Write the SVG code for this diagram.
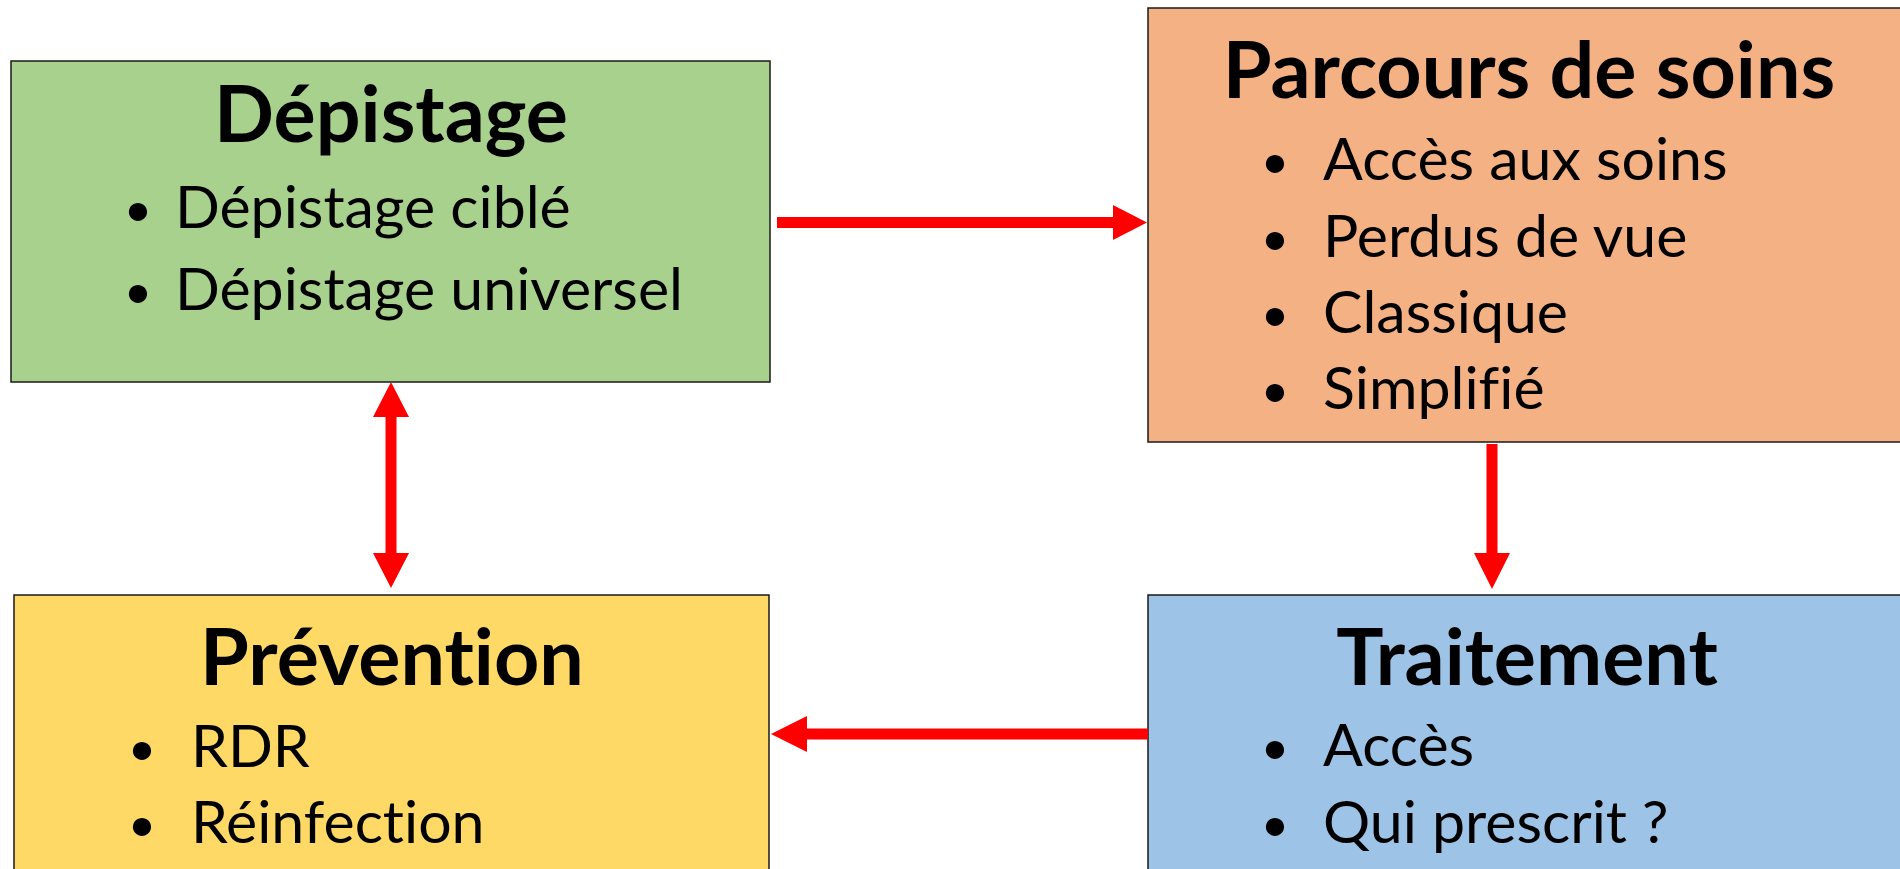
<svg xmlns="http://www.w3.org/2000/svg" width="1900" height="869" viewBox="0 0 1900 869">
<style>
.box{stroke:#1a1a1a;stroke-width:1.5}
text{font-family:Lato,"Liberation Sans",sans-serif;fill:#000;font-variant-ligatures:none;font-feature-settings:"liga" 0,"dlig" 0}
.title{font-weight:bold;font-size:79px;text-anchor:middle}
.item{font-size:59px}
.bul{font-size:49px;text-anchor:middle}
.conn{stroke:#FF0000;stroke-width:11;fill:none}
.head{fill:#FF0000}
</style>
<rect width="1900" height="869" fill="#fff"/>
<g id="depistage">
<rect class="box" x="11" y="61" width="759" height="321" fill="#A9D18E"/>
<text class="title" x="391" y="142">Dépistage</text>
<text class="bul" x="138" y="226">•</text>
<text class="item" x="175" y="228">Dépistage ciblé</text>
<text class="bul" x="138" y="308">•</text>
<text class="item" x="175" y="310">Dépistage universel</text>
</g>
<g id="parcours">
<rect class="box" x="1148" y="8" width="760" height="434" fill="#F4B183"/>
<text class="title" x="1529" y="98">Parcours de soins</text>
<text class="bul" x="1275" y="178">•</text>
<text class="item" x="1323" y="180">Accès aux soins</text>
<text class="bul" x="1275" y="255">•</text>
<text class="item" x="1323" y="257">Perdus de vue</text>
<text class="bul" x="1275" y="331">•</text>
<text class="item" x="1323" y="333">Classique</text>
<text class="bul" x="1275" y="407">•</text>
<text class="item" x="1323" y="409">Simplifié</text>
</g>
<g id="prevention">
<rect class="box" x="14" y="595" width="755" height="290" fill="#FFD966"/>
<text class="title" x="392" y="685">Prévention</text>
<text class="bul" x="142" y="765">•</text>
<text class="item" x="191" y="767">RDR</text>
<text class="bul" x="142" y="841">•</text>
<text class="item" x="191" y="843">Réinfection</text>
</g>
<g id="traitement">
<rect class="box" x="1148" y="595" width="760" height="290" fill="#9DC3E6"/>
<text class="title" x="1527" y="685">Traitement</text>
<text class="bul" x="1275" y="764">•</text>
<text class="item" x="1323" y="766">Accès</text>
<text class="bul" x="1275" y="841">•</text>
<text class="item" x="1323" y="843">Qui prescrit ?</text>
</g>
<g id="connectors">
<line class="conn" x1="777" y1="222.5" x2="1114" y2="222.5"/>
<polygon class="head" points="1113,205 1147,222.5 1113,240"/>
<line class="conn" x1="391" y1="416" x2="391" y2="554"/>
<polygon class="head" points="373,417 391,382 409,417"/>
<polygon class="head" points="373,553 391,588 409,553"/>
<line class="conn" x1="1492" y1="444" x2="1492" y2="554"/>
<polygon class="head" points="1474,553 1492,589 1510,553"/>
<line class="conn" x1="1148" y1="734" x2="806" y2="734"/>
<polygon class="head" points="807,716 771,734 807,752"/>
</g>
</svg>
